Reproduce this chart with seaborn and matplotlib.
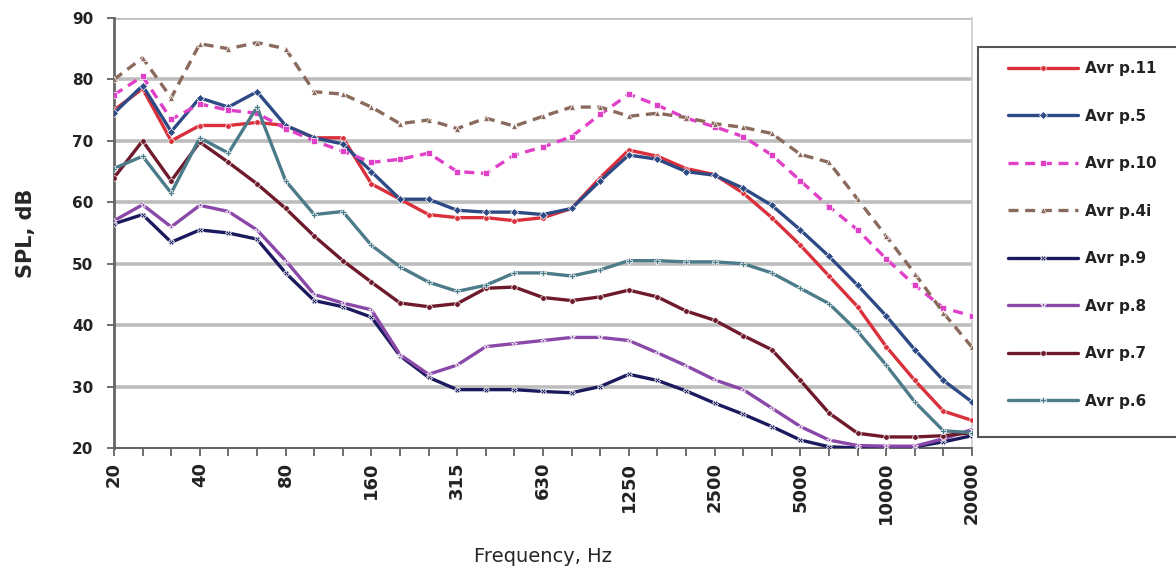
import numpy as np
import pandas as pd
import matplotlib
matplotlib.use("Agg")
import matplotlib.pyplot as plt
from matplotlib.patches import Rectangle
import seaborn as sns

# 1/3-octave band centre frequencies (Hz)
freqs = ["20", "25", "31.5", "40", "50", "63", "80", "100", "125", "160",
         "200", "250", "315", "400", "500", "630", "800", "1000", "1250", "1600",
         "2000", "2500", "3150", "4000", "5000", "6300", "8000", "10000", "12500",
         "16000", "20000"]
tick_labels = ["20", "40", "80", "160", "315", "630", "1250", "2500", "5000",
               "10000", "20000"]

series_names = ["Avr p.11", "Avr p.5", "Avr p.10", "Avr p.4i",
                "Avr p.9", "Avr p.8", "Avr p.7", "Avr p.6"]

p11 = [75, 78.5, 70, 72.5, 72.5, 73, 72.5, 70.5, 70.5, 63, 60.5, 58, 57.5, 57.5, 57,
       57.5, 59, 64, 68.5, 67.5, 65.5, 64.5, 61.5, 57.5, 53, 48, 43, 36.5, 31, 26, 24.5]
p5 = [74.5, 79, 71.5, 77, 75.5, 78, 72.5, 70.5, 69.5, 65, 60.5, 60.5, 58.7, 58.4, 58.4,
      58, 59, 63.5, 67.7, 67, 65, 64.4, 62.3, 59.5, 55.5, 51.2, 46.5, 41.5, 36, 31, 27.5]
p10 = [77.5, 80.5, 73.5, 76, 75, 74.5, 72, 70, 68.3, 66.5, 67, 68, 65, 64.7, 67.7,
       69, 70.7, 74.3, 77.6, 75.8, 73.7, 72.3, 70.7, 67.7, 63.5, 59.3, 55.5, 50.8, 46.5,
       42.8, 41.5]
p4i = [80, 83.5, 77, 85.8, 85, 86, 85, 78, 77.6, 75.5, 72.8, 73.4, 72, 73.7, 72.4,
       74, 75.5, 75.5, 74, 74.5, 73.8, 72.8, 72.2, 71.2, 67.8, 66.5, 60.5, 54.5, 48.4,
       42, 36.4]
p9 = [56.5, 58, 53.5, 55.5, 55, 54, 48.5, 44, 43, 41.3, 35, 31.5, 29.5, 29.5, 29.5,
      29.2, 29, 30, 32, 31, 29.3, 27.3, 25.5, 23.5, 21.3, 20.2, 20, 20, 20.2, 21, 22]
p8 = [57, 59.6, 56, 59.5, 58.5, 55.5, 50.5, 45, 43.6, 42.5, 35.2, 32, 33.5, 36.5, 37,
      37.5, 38, 38, 37.5, 35.5, 33.4, 31.1, 29.5, 26.5, 23.5, 21.3, 20.4, 20.3, 20.3,
      21.5, 23]
p7 = [64, 70, 63.5, 69.8, 66.5, 63, 59, 54.5, 50.5, 47, 43.6, 43, 43.5, 46, 46.2,
      44.5, 44, 44.6, 45.7, 44.6, 42.3, 40.8, 38.3, 36, 31, 25.7, 22.4, 21.8, 21.8, 22,
      22.5]
p6 = [65.5, 67.5, 61.5, 70.5, 68, 75.5, 63.5, 58, 58.5, 53, 49.5, 47, 45.5, 46.5, 48.5,
      48.5, 48, 49, 50.5, 50.5, 50.3, 50.3, 50, 48.5, 46, 43.5, 39, 33.5, 27.5, 22.8,
      22.5]

all_values = [p11, p5, p10, p4i, p9, p8, p7, p6]

colors = ["#d9303c", "#2e4a85", "#e040c8", "#8a6a5c",
          "#1c1a5e", "#8a48a8", "#6e1a2a", "#4c7b8a"]
dash_styles = ["", "", (3, 2), (3, 2), "", "", "", ""]
marker_styles = ["o", "D", "s", "^", "X", "*", "o", "P"]

rows = []
for name, vals in zip(series_names, all_values):
    for i, v in enumerate(vals):
        rows.append({"band": i, "spl": v, "series": name})
df = pd.DataFrame(rows)

sns.set_style("white")
plt.rcParams["font.family"] = ["DejaVu Sans"]

W, H = 1176, 581
fig = plt.figure(figsize=(W / 100, H / 100), dpi=100)
ax = fig.add_axes([114 / W, 1 - 448 / H, (972 - 114) / W, (448 - 18) / H])

sns.lineplot(data=df, x="band", y="spl", hue="series", style="series",
             hue_order=series_names, style_order=series_names,
             palette=dict(zip(series_names, colors)),
             dashes=dict(zip(series_names, dash_styles)),
             markers=dict(zip(series_names, marker_styles)),
             markersize=4, linewidth=2.4, markeredgewidth=0.5,
             ax=ax, legend=True, zorder=3)

ax.set_xlim(0, len(freqs) - 1)
ax.set_ylim(20, 90)
ax.set_yticks(np.arange(20, 91, 10))
ax.set_yticklabels([str(v) for v in range(20, 91, 10)], fontsize=11, fontweight="bold",
                   color="#222222")
major_pos = [freqs.index(t) for t in tick_labels]
ax.set_xticks(major_pos)
ax.set_xticklabels(tick_labels, rotation=90, fontsize=13, fontweight="bold",
                   color="#222222")
ax.set_xticks(range(len(freqs)), minor=True)
ax.tick_params(axis="x", which="both", direction="out", length=6, width=1.2,
               color="#555555", bottom=True, pad=4)
ax.tick_params(axis="y", which="major", direction="out", length=5, width=1.2,
               color="#555555", left=True, pad=10)

ax.grid(False)
for v in range(30, 91, 10):
    ax.axhline(v, color="#bdbdbd", lw=2.6, zorder=1)

ax.spines["top"].set_visible(False)
ax.spines["right"].set_color("#cccccc")
ax.spines["right"].set_linewidth(1.2)
ax.spines["left"].set_color("#666666")
ax.spines["left"].set_linewidth(2)
ax.spines["bottom"].set_color("#666666")
ax.spines["bottom"].set_linewidth(1.5)

ax.set_ylabel("SPL, dB", fontsize=15, fontweight="bold")
ax.yaxis.set_label_coords((36 - 114) / (972 - 114), 0.5)
ax.set_xlabel("Frequency, Hz", fontsize=14)
ax.xaxis.set_label_coords(0.5, (448 - 557) / (448 - 18))
ax.xaxis.label.set_va("center")

# legend frame (extends past the right edge as in the original)
fig.patches.append(Rectangle((978 / W, 1 - 437 / H), (W + 10 - 978) / W, (437 - 47) / H,
                             transform=fig.transFigure, fill=True, facecolor="white",
                             edgecolor="#555555", linewidth=1.5, zorder=1))

handles, labels = ax.get_legend_handles_labels()
ax.get_legend().remove()
leg = fig.legend(handles, labels, loc="upper left",
                 bbox_to_anchor=(1008 / W, 1 - 61 / H),
                 bbox_transform=fig.transFigure, frameon=False,
                 fontsize=11, handlelength=4.6, labelspacing=2.13, borderpad=0,
                 handletextpad=0.45, borderaxespad=0)
leg.set_zorder(6)
for t in leg.get_texts():
    t.set_fontweight("bold")
    t.set_color("#222222")

fig.savefig("out.png", dpi=100, facecolor="white")
